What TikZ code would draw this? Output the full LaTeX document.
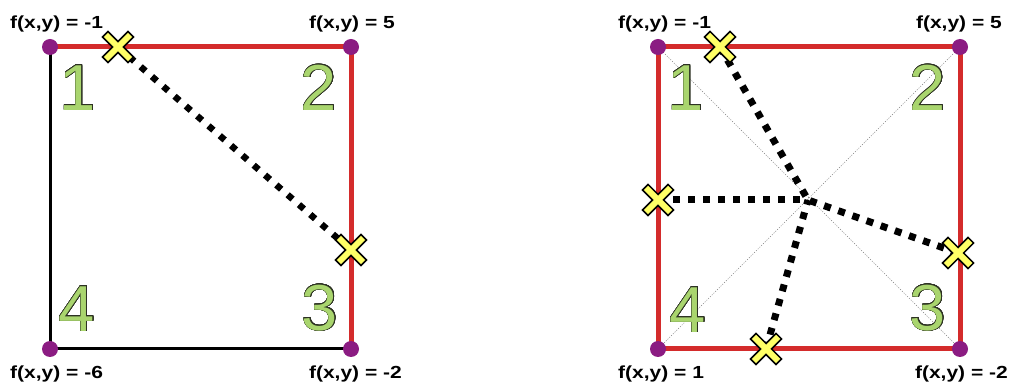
\documentclass[tikz,border=0pt]{standalone}
\usepackage{fontspec}
\setmainfont{Liberation Sans}
\usepackage{contour}
\contourlength{0.55pt}
\contournumber{24}
\definecolor{edgered}{RGB}{212,43,43}
\definecolor{dotpurple}{RGB}{139,28,130}
\definecolor{xyellow}{RGB}{255,255,102}
\definecolor{numgreen}{RGB}{169,213,110}
\definecolor{numline}{RGB}{45,50,35}
\tikzset{
  redge/.style={edgered, line width=5pt},
  bedge/.style={black, line width=3pt},
  thindiag/.style={gray, line width=0.6pt, dash pattern=on 1pt off 1.5pt},
  thickdots/.style={black, line width=7pt, dash pattern=on 7pt off 8pt},
  cornerdot/.style={circle, fill=dotpurple, minimum size=16pt, inner sep=0pt},
  val/.style={font=\fontsize{17.5}{20}\selectfont\bfseries, inner sep=0pt},
  digit/.style={font=\fontsize{65}{70}\selectfont, inner sep=0pt},
  crossmark/.pic={
    \draw[black, line width=9.5pt, line cap=rect] (-10,-10)--(10,10) (-10,10)--(10,-10);
    \draw[xyellow, line width=6pt, line cap=rect] (-10,-10)--(10,10) (-10,10)--(10,-10);
  }
}
\newcommand{\olnum}[1]{\contour{numline}{\textcolor{numgreen}{#1}}}
\begin{document}
\begin{tikzpicture}[x=1pt,y=-1pt]
\useasboundingbox (0,0) rectangle (1010,387);
% ---------- left square ----------
\coordinate (A1) at (50,47);
\coordinate (A2) at (351,47);
\coordinate (A3) at (351,349);
\coordinate (A4) at (50,349);
\coordinate (AX1) at (118,47);
\coordinate (AX2) at (351,250);
\draw[bedge] (A2) -- (A3) -- (A4) -- (A1);
\draw[redge] (A1) -- (A2) -- (A3);
\draw[thickdots, line width=6.5pt, dash pattern=on 6.5pt off 8.5pt] (AX1) -- (AX2);
\node[digit] (a1n) at (78,88) {\olnum{1}};
\node[digit] (a2n) at (319,88) {\olnum{2}};
\node[digit] (a3n) at (320,308) {\olnum{3}};
\node[digit] (a4n) at (77,309) {\olnum{4}};
\foreach \c in {A1,A2,A3,A4} \node[cornerdot] at (\c) {};
\pic at (AX1) {crossmark};
\pic at (AX2) {crossmark};
\node[val, anchor=base west] (la1) at (10,29) {\scalebox{1.2}[1]{f(x,y) = -1}};
\node[val, anchor=base east] (la2) at (395,29) {\scalebox{1.2}[1]{f(x,y) = 5}};
\node[val, anchor=base east] (la3) at (402,379) {\scalebox{1.2}[1]{f(x,y) = -2}};
\node[val, anchor=base west] (la4) at (10,379) {\scalebox{1.2}[1]{f(x,y) = -6}};
% ---------- right square ----------
\coordinate (B1) at (658,47);
\coordinate (B2) at (960,47);
\coordinate (B3) at (960,349);
\coordinate (B4) at (658,349);
\coordinate (BC) at (808,200);
\coordinate (BX1) at (720,47);
\coordinate (BX2) at (658,200);
\coordinate (BX3) at (958,253);
\coordinate (BX4) at (766,349);
\draw[thindiag] (B1) -- (B3);
\draw[thindiag] (B2) -- (B4);
\draw[redge] (B1) -- (B2) -- (B3) -- (B4) -- cycle;
\draw[thickdots] (BX1) -- (BC);
\draw[thickdots] (BX2) -- (BC);
\draw[thickdots] (BX3) -- (BC);
\draw[thickdots] (BX4) -- (BC);
\node[digit] (b1n) at (686,88) {\olnum{1}};
\node[digit] (b2n) at (928,88) {\olnum{2}};
\node[digit] (b3n) at (928,308) {\olnum{3}};
\node[digit] (b4n) at (688,310) {\olnum{4}};
\foreach \c in {B1,B2,B3,B4} \node[cornerdot] at (\c) {};
\pic at (BX1) {crossmark};
\pic at (BX2) {crossmark};
\pic at (BX3) {crossmark};
\pic at (BX4) {crossmark};
\node[val, anchor=base west] (lb1) at (618,29) {\scalebox{1.2}[1]{f(x,y) = -1}};
\node[val, anchor=base east] (lb2) at (1002,29) {\scalebox{1.2}[1]{f(x,y) = 5}};
\node[val, anchor=base east] (lb3) at (1008,379) {\scalebox{1.2}[1]{f(x,y) = -2}};
\node[val, anchor=base west] (lb4) at (618,379) {\scalebox{1.2}[1]{f(x,y) = 1}};
\end{tikzpicture}
\end{document}
